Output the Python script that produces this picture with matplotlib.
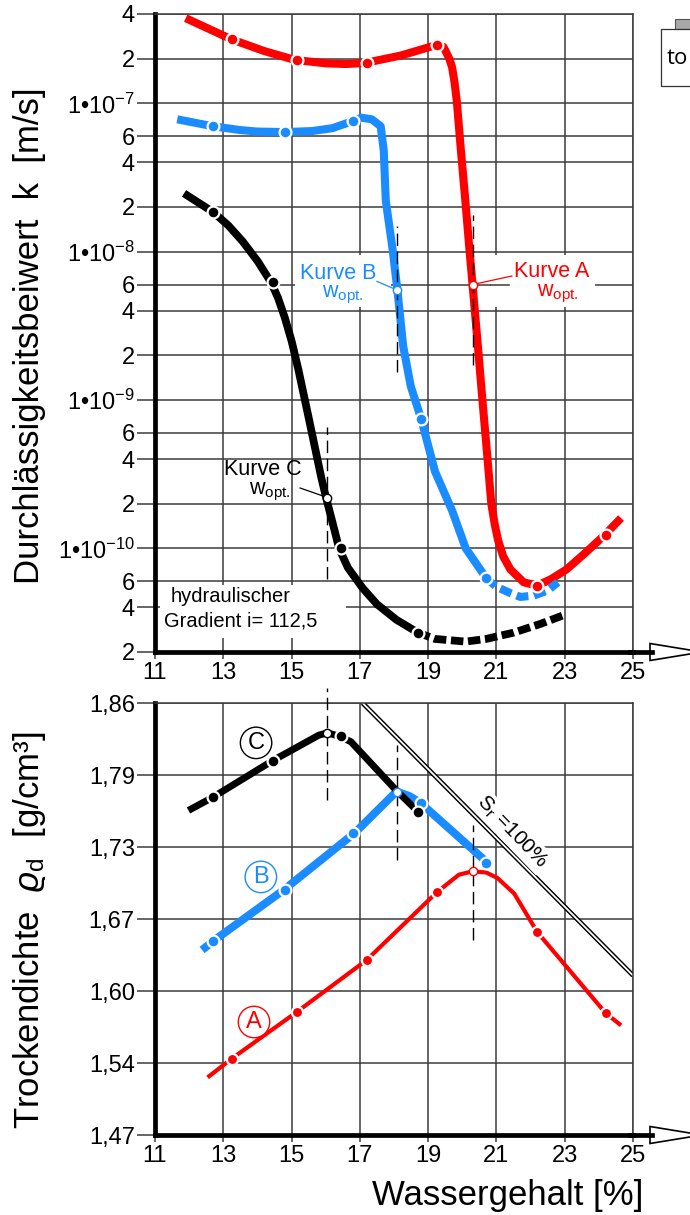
import matplotlib
matplotlib.use("Agg")
import matplotlib.pyplot as plt
from matplotlib.patches import Rectangle, Polygon
from matplotlib.lines import Line2D

plt.rcParams["font.family"] = ["Liberation Sans", "DejaVu Sans"]
plt.rcParams["mathtext.fontset"] = "custom"
plt.rcParams["mathtext.rm"] = "Liberation Sans"
plt.rcParams["mathtext.it"] = "Liberation Sans:italic"
plt.rcParams["mathtext.bf"] = "Liberation Sans:bold"

# ---------------- data ----------------
# permeability k [m/s] versus water content w [%]
wA_k = [11.9, 13.24, 14.2, 15.1, 16.0, 16.6, 17.15, 18.2, 19.24, 19.45, 19.62, 19.7,
        19.77, 19.84, 19.96, 20.09, 20.21, 20.30, 20.46, 20.58, 20.71, 20.85, 20.95,
        21.05, 21.2, 21.41, 21.8, 22.19, 22.6, 23.05, 23.6, 24.17, 24.65]
kA = [3.75e-7, 2.7e-7, 2.25e-7, 1.96e-7, 1.86e-7, 1.84e-7, 1.87e-7, 2.1e-7, 2.47e-7,
      2.4e-7, 2.0e-7, 1.75e-7, 1.4e-7, 1.03e-7, 4.8e-8, 2.2e-8, 1.03e-8, 6e-9, 2.27e-9,
      1.06e-9, 4.8e-10, 2.0e-10, 1.45e-10, 1.13e-10, 8.8e-11, 7.2e-11, 5.9e-11, 5.6e-11,
      6.2e-11, 7.2e-11, 9.3e-11, 1.23e-10, 1.6e-10]

wB_k = [11.65, 12.7, 13.5, 14.0, 14.8, 15.6, 16.2, 16.8, 17.05, 17.35, 17.61, 17.7,
        17.76, 17.96, 18.1, 18.27, 18.49, 18.8, 19.2, 19.7, 20.1, 20.7]
kB = [7.8e-8, 7.0e-8, 6.6e-8, 6.45e-8, 6.4e-8, 6.5e-8, 6.8e-8, 7.6e-8, 8.0e-8, 7.8e-8,
      7.0e-8, 4.8e-8, 2.2e-8, 1.03e-8, 5.5e-9, 2.3e-9, 1.24e-9, 7.4e-10, 3.3e-10,
      1.8e-10, 1.0e-10, 6.3e-11]
wB_k_ext = [20.7, 21.0, 21.4, 21.7, 22.1, 22.5, 22.8]
kB_ext = [6.3e-11, 5.5e-11, 5.0e-11, 4.7e-11, 4.8e-11, 5.2e-11, 5.9e-11]

wC_k = [11.85, 12.7, 13.15, 13.57, 14.01, 14.4, 14.6, 14.8, 15.0, 15.2, 15.49, 15.7,
        15.87, 16.01, 16.27, 16.39, 16.65, 17.08, 17.5, 18.07, 18.7]
kC = [2.47e-8, 1.85e-8, 1.5e-8, 1.17e-8, 8.6e-9, 6.2e-9, 4.9e-9, 3.6e-9, 2.5e-9, 1.6e-9,
      7.8e-10, 4.6e-10, 3.0e-10, 2.2e-10, 1.29e-10, 1.0e-10, 7.4e-11, 5.4e-11, 4.2e-11,
      3.3e-11, 2.7e-11]
wC_k_ext = [18.7, 19.2, 20.1, 20.7, 21.5, 22.3, 23.05]
kC_ext = [2.7e-11, 2.45e-11, 2.35e-11, 2.45e-11, 2.7e-11, 3.1e-11, 3.6e-11]

# dry density rho_d [g/cm3] versus water content w [%]
wA_rho = [12.54, 13.25, 15.15, 17.2, 19.25, 19.9, 20.3, 20.7, 21.03, 21.52, 22.2,
          23.05, 24.2, 24.65]
rhoA = [1.522, 1.539, 1.581, 1.628, 1.689, 1.705, 1.708, 1.707, 1.702, 1.688, 1.653,
        1.622, 1.580, 1.569]
wB_rho = [12.38, 12.7, 14.76, 16.86, 18.07, 18.45, 18.77, 20.73]
rhoB = [1.637, 1.645, 1.691, 1.743, 1.780, 1.776, 1.770, 1.716]
wC_rho = [11.98, 12.7, 14.45, 15.8, 16.05, 16.4, 16.74, 18.07, 18.7]
rhoC = [1.763, 1.775, 1.808, 1.831, 1.833, 1.830, 1.825, 1.781, 1.762]

# test samples (measured points)
wA_s = [13.25, 15.15, 17.2, 19.25, 22.2, 24.2]
kA_s = [2.7e-7, 1.96e-7, 1.87e-7, 2.47e-7, 5.6e-11, 1.23e-10]
rhoA_s = [1.539, 1.581, 1.628, 1.689, 1.653, 1.580]
wB_s = [12.7, 14.8, 16.8, 18.8, 20.7]
kB_s = [7.0e-8, 6.4e-8, 7.6e-8, 7.4e-10, 6.3e-11]
rhoB_s = [1.645, 1.691, 1.743, 1.770, 1.716]
wC_s = [12.7, 14.45, 16.45, 18.7]
kC_s = [1.85e-8, 6.2e-9, 1.0e-10, 2.7e-11]
rhoC_s = [1.775, 1.808, 1.830, 1.762]

# optimum water content of each curve
w_opt = {"A": 20.3, "B": 18.1, "C": 16.05}
k_opt = {"A": 6e-9, "B": 5.5e-9, "C": 2.2e-10}
rho_opt = {"A": 1.708, "B": 1.780, "C": 1.833}

# saturation line S_r = 100 %
sr_w = [17.08, 25.0]
sr_rho = [1.86, 1.614]

x_ticks = [11, 13, 15, 17, 19, 21, 23, 25]
k_ticks = [2e-11, 4e-11, 6e-11, 1e-10, 2e-10, 4e-10, 6e-10, 1e-9, 2e-9, 4e-9, 6e-9,
           1e-8, 2e-8, 4e-8, 6e-8, 1e-7, 2e-7, 4e-7]
k_labels = ["2", "4", "6", "1•10$^{-10}$", "2", "4", "6", "1•10$^{-9}$", "2", "4", "6",
            "1•10$^{-8}$", "2", "4", "6", "1•10$^{-7}$", "2", "4"]
rho_ticks = [1.47, 1.535, 1.60, 1.665, 1.73, 1.795, 1.86]
rho_labels = ["1,47", "1,54", "1,60", "1,67", "1,73", "1,79", "1,86"]

RED = "#ff0000"
BLUE = "#1a8cff"
BLACK = "#000000"
GRID = "#3c3c3c"

# ---------------- figure ----------------
W, H = 690, 1215
fig = plt.figure(figsize=(W / 100, H / 100), dpi=100)


def fx(px):
    return px / W


def fy(py):
    return 1 - py / H


ax1 = fig.add_axes([fx(155), fy(652), fx(633) - fx(155), fy(14) - fy(652)])
ax2 = fig.add_axes([fx(155), fy(1135), fx(633) - fx(155), fy(703) - fy(1135)])

for ax in (ax1, ax2):
    ax.set_xlim(11, 25)
    ax.set_xticks(x_ticks)
    ax.set_xticklabels([str(t) for t in x_ticks])
    ax.set_axisbelow(True)
    ax.grid(True, color=GRID, lw=1.1)
    for s in ("left", "bottom"):
        ax.spines[s].set_linewidth(3.4)
        ax.spines[s].set_color("black")
    for s in ("top", "right"):
        ax.spines[s].set_linewidth(1.1)
        ax.spines[s].set_color(GRID)
    ax.tick_params(axis="y", length=13, width=1.1, color=GRID, pad=1.5, labelsize=17)
    ax.tick_params(axis="x", length=5, width=1.1, color=GRID, pad=2, labelsize=17)
    ax.minorticks_off()

ax1.set_yscale("log")
ax1.set_ylim(2e-11, 4e-7)
ax1.set_yticks(k_ticks)
ax1.set_yticklabels(k_labels)
ax1.minorticks_off()

ax2.set_ylim(1.47, 1.86)
ax2.set_yticks(rho_ticks)
ax2.set_yticklabels(rho_labels)


def curve(ax, w, v, color, lw, ls="-", z=3):
    ax.plot(w, v, color=color, lw=lw, ls=ls, solid_capstyle="butt",
            dash_capstyle="butt", solid_joinstyle="round", zorder=z)


def dots(ax, w, v, color, ms=8.5):
    ax.plot(w, v, "o", ms=ms, mfc=color, mec="white", mew=1.6, zorder=5)


def opt_mark(ax, w, v, color):
    ax.plot([w], [v], "o", ms=6, mfc="white", mec=color, mew=1.0, zorder=6)


# ---------- upper panel: permeability ----------
# white areas behind the labels
for x0, x1 in ((20.85, 23.9), (15.1, 17.9)):
    ax1.add_patch(Rectangle((x0, 4.25e-9), x1 - x0, 9.5e-9 - 4.25e-9,
                            facecolor="white", edgecolor="none", zorder=1))
ax1.plot([20.85, 21.38], [6e-9, 6e-9], color=GRID, lw=1.1, zorder=1.2)
ax1.add_patch(Rectangle((11.15, 2.5e-11), 16.6 - 11.15, 5.7e-11 - 2.5e-11,
                        facecolor="white", edgecolor="none", zorder=1))

curve(ax1, wA_k, kA, RED, 5.8)
curve(ax1, wB_k, kB, BLUE, 5.8)
curve(ax1, wB_k_ext, kB_ext, BLUE, 5.8, ls=(0, (1.5, 0.7)))
curve(ax1, wC_k, kC, BLACK, 5.6)
curve(ax1, wC_k_ext, kC_ext, BLACK, 5.6, ls=(0, (1.6, 0.6)))
dots(ax1, wA_s, kA_s, RED)
dots(ax1, wB_s, kB_s, BLUE)
dots(ax1, wC_s, kC_s, BLACK)

dash = (0, (9, 4))
ax1.plot([w_opt["A"]] * 2, [1.73e-9, 1.77e-8], color="black", lw=1.0, ls=dash, zorder=4)
ax1.plot([w_opt["B"]] * 2, [1.55e-9, 1.5e-8], color="black", lw=1.0, ls=dash, zorder=4)
ax1.plot([w_opt["C"]] * 2, [6.2e-11, 6.6e-10], color="black", lw=1.0, ls=dash, zorder=4)

for key, col in (("A", RED), ("B", BLUE), ("C", BLACK)):
    opt_mark(ax1, w_opt[key], k_opt[key], col)

ax1.plot([w_opt["A"], 21.45], [k_opt["A"], 6.85e-9], color=RED, lw=0.9, zorder=4)
ax1.text(22.62, 7.4e-9, "Kurve A", color=RED, fontsize=15.5, ha="center", va="center", zorder=7)
ax1.text(22.8, 5.2e-9, "w$_{\\mathrm{opt.}}$", color=RED, fontsize=15.5, ha="center", va="center", zorder=7)

ax1.plot([w_opt["B"], 17.5], [k_opt["B"], 6.3e-9], color=BLUE, lw=0.9, zorder=4)
ax1.text(16.36, 7.1e-9, "Kurve B", color=BLUE, fontsize=15.5, ha="center", va="center", zorder=7)
ax1.text(16.5, 5.1e-9, "w$_{\\mathrm{opt.}}$", color=BLUE, fontsize=15.5, ha="center", va="center", zorder=7)

ax1.plot([w_opt["C"], 15.25], [k_opt["C"], 2.55e-10], color=BLACK, lw=0.9, zorder=4)
ax1.text(14.16, 3.4e-10, "Kurve C", color=BLACK, fontsize=15.5, ha="center", va="center", zorder=7)
ax1.text(14.35, 2.4e-10, "w$_{\\mathrm{opt.}}$", color=BLACK, fontsize=15.5, ha="center", va="center", zorder=7)

ax1.text(11.45, 4.7e-11, "hydraulischer", fontsize=14.5, ha="left", va="center", zorder=7)
ax1.text(11.25, 3.23e-11, "Gradient i= 112,5", fontsize=14.5, ha="left", va="center", zorder=7)

# ---------- lower panel: dry density ----------
ax2.plot(sr_w, sr_rho, color="black", lw=3.4, zorder=2, solid_capstyle="butt")
ax2.plot(sr_w, sr_rho, color="white", lw=1.3, zorder=2.1, solid_capstyle="butt")
ax2.text(21.45, 1.744, "S$_{\\mathrm{r}}$ =100%", fontsize=15, rotation=-46,
         ha="center", va="center", zorder=2.5,
         bbox=dict(boxstyle="square,pad=0.12", fc="white", ec="none"))

curve(ax2, wA_rho, rhoA, RED, 3.0)
curve(ax2, wB_rho, rhoB, BLUE, 5.8)
curve(ax2, wC_rho, rhoC, BLACK, 5.0)
dots(ax2, wA_s, rhoA_s, RED, ms=8)
dots(ax2, wB_s, rhoB_s, BLUE)
dots(ax2, wC_s, rhoC_s, BLACK)

ax2.plot([w_opt["C"]] * 2, [1.772, 1.8735], color="black", lw=1.0, ls=dash, zorder=4, clip_on=False)
ax2.plot([w_opt["B"]] * 2, [1.718, 1.822], color="black", lw=1.0, ls=dash, zorder=4)
ax2.plot([w_opt["A"]] * 2, [1.646, 1.750], color="black", lw=1.0, ls=dash, zorder=4)
for key, col in (("A", RED), ("B", BLUE), ("C", BLACK)):
    opt_mark(ax2, w_opt[key], rho_opt[key], col)

for letter, col, xx, yy in (("C", BLACK, 13.96, 1.824), ("B", BLUE, 14.1, 1.703),
                            ("A", RED, 13.9, 1.572)):
    ax2.text(xx, yy, letter, color=col, fontsize=17, ha="center", va="center", zorder=7,
             bbox=dict(boxstyle="circle,pad=0.2", fc="white", ec=col, lw=1.0))

# ---------- axis labels ----------
fig.text(fx(30), fy(336), "Durchlässigkeitsbeiwert  k  [m/s]", rotation=90,
         fontsize=25, ha="center", va="center")
fig.text(fx(30), fy(930), "Trockendichte  $\\varrho_{\\mathrm{d}}$  [g/cm³]", rotation=90,
         fontsize=25, ha="center", va="center")
fig.text(fx(508), fy(1195), "Wassergehalt [%]", fontsize=25, ha="center", va="center")

# ---------- arrow heads on the abscissae ----------
for ypx in (652, 1135):
    fig.add_artist(Line2D([fx(630), fx(652)], [fy(ypx), fy(ypx)], color="black", lw=3.4,
                          transform=fig.transFigure))
    fig.add_artist(Polygon([(fx(650), fy(ypx - 8.5)), (fx(650), fy(ypx + 8.5)),
                            (fx(702), fy(ypx))], closed=True, facecolor="white",
                           edgecolor="black", lw=1.2, transform=fig.transFigure,
                           clip_on=False))

# ---------- small tab box at the upper right ----------
fig.add_artist(Rectangle((fx(675), fy(29)), fx(30), fy(19) - fy(29), facecolor="#a8a8a8",
                         edgecolor="#555555", lw=0.8, transform=fig.transFigure))
fig.add_artist(Rectangle((fx(661), fy(86)), fx(40), fy(29) - fy(86), facecolor="white",
                         edgecolor="#333333", lw=0.9, transform=fig.transFigure))
fig.text(fx(667), fy(58), "to", fontsize=16, family=["Open Sans", "DejaVu Sans"],
         ha="left", va="center")

fig.savefig("out.png", dpi=100)
